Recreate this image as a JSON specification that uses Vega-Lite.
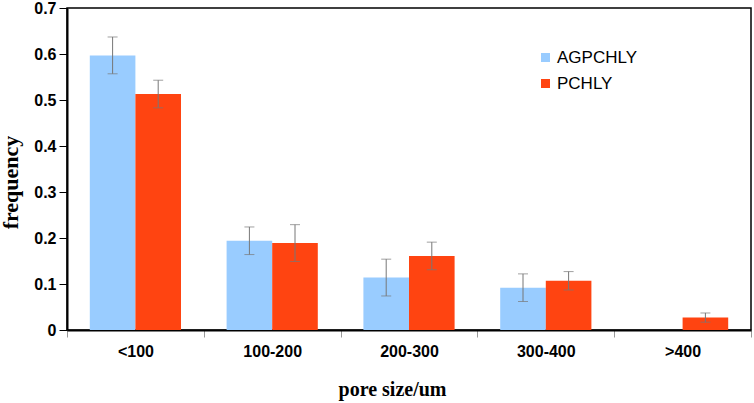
{
  "$schema": "https://vega.github.io/schema/vega-lite/v6.json",
  "width": 684,
  "height": 322,
  "autosize": "none",
  "padding": {"left": 67, "top": 8, "right": 3, "bottom": 73},
  "config": {
    "view": {"stroke": "#000", "strokeWidth": 1.5},
    "font": "Liberation Sans"
  },
  "data": {
    "values": [
      {"size": "<100", "group": "AGPCHLY", "value": 0.597, "lo": 0.557, "hi": 0.637},
      {"size": "<100", "group": "PCHLY", "value": 0.513, "lo": 0.483, "hi": 0.543},
      {"size": "100-200", "group": "AGPCHLY", "value": 0.194, "lo": 0.164, "hi": 0.224},
      {"size": "100-200", "group": "PCHLY", "value": 0.189, "lo": 0.149, "hi": 0.229},
      {"size": "200-300", "group": "AGPCHLY", "value": 0.114, "lo": 0.074, "hi": 0.154},
      {"size": "200-300", "group": "PCHLY", "value": 0.161, "lo": 0.131, "hi": 0.191},
      {"size": "300-400", "group": "AGPCHLY", "value": 0.092, "lo": 0.062, "hi": 0.122},
      {"size": "300-400", "group": "PCHLY", "value": 0.107, "lo": 0.087, "hi": 0.127},
      {"size": ">400", "group": "PCHLY", "value": 0.027, "lo": 0.017, "hi": 0.037}
    ]
  },
  "encoding": {
    "x": {
      "field": "size",
      "type": "nominal",
      "sort": ["<100", "100-200", "200-300", "300-400", ">400"],
      "scale": {"paddingInner": 0, "paddingOuter": 0},
      "axis": {
        "labelAngle": 0,
        "labelFontSize": 16,
        "labelFontWeight": "bold",
        "labelColor": "#000",
        "labelPadding": 6,
        "tickSize": 7,
        "tickColor": "#999",
        "tickBand": "extent",
        "domainColor": "#000",
        "domainWidth": 2,
        "title": "pore size/um",
        "titleFont": "Liberation Serif",
        "titleFontSize": 20,
        "titleFontWeight": "bold",
        "titleColor": "#000",
        "titleX": 325,
        "titleY": 65,
        "titleBaseline": "alphabetic"
      }
    },
    "xOffset": {
      "field": "group",
      "type": "nominal",
      "sort": ["AGPCHLY", "PCHLY"],
      "scale": {"paddingInner": 0, "paddingOuter": 0.5}
    }
  },
  "layer": [
    {
      "mark": {"type": "bar"},
      "encoding": {
        "y": {
          "field": "value",
          "type": "quantitative",
          "title": "frequency",
          "scale": {"domain": [0, 0.7], "nice": false},
          "axis": {
            "values": [0, 0.1, 0.2, 0.3, 0.4, 0.5, 0.6, 0.7],
            "labelExpr": "datum.value == 0 ? '0' : format(datum.value, '.1f')",
            "labelFontSize": 16,
            "labelFontWeight": "bold",
            "labelColor": "#000",
            "labelPadding": 3,
            "tickSize": 8,
            "tickColor": "#000",
            "domainColor": "#000",
            "domainWidth": 2,
            "grid": false,
            "titleFont": "Liberation Serif",
            "titleFontSize": 22,
            "titleFontWeight": "bold",
            "titleColor": "#000",
            "titleAngle": -90,
            "titleX": -50,
            "titleY": 174,
            "titleAlign": "center",
            "titleBaseline": "alphabetic"
          }
        },
        "color": {
          "field": "group",
          "type": "nominal",
          "sort": ["AGPCHLY", "PCHLY"],
          "scale": {"domain": ["AGPCHLY", "PCHLY"], "range": ["#99ccff", "#ff4411"]},
          "legend": {
            "orient": "none",
            "legendX": 470,
            "legendY": 41,
            "title": null,
            "symbolType": "square",
            "symbolSize": 81,
            "symbolStrokeWidth": 0,
            "symbolOpacity": 1,
            "labelFont": "Liberation Sans",
            "labelFontSize": 17,
            "labelColor": "#000",
            "labelOffset": 3,
            "rowPadding": 8,
            "padding": 0
          }
        }
      }
    },
    {
      "mark": {"type": "rule", "color": "#777", "strokeWidth": 1},
      "encoding": {
        "y": {"field": "lo", "type": "quantitative", "title": "frequency"},
        "y2": {"field": "hi"}
      }
    },
    {
      "mark": {"type": "tick", "orient": "horizontal", "size": 10, "thickness": 1, "color": "#777"},
      "encoding": {
        "y": {"field": "lo", "type": "quantitative", "title": "frequency"}
      }
    },
    {
      "mark": {"type": "tick", "orient": "horizontal", "size": 10, "thickness": 1, "color": "#777"},
      "encoding": {
        "y": {"field": "hi", "type": "quantitative", "title": "frequency"}
      }
    }
  ]
}
